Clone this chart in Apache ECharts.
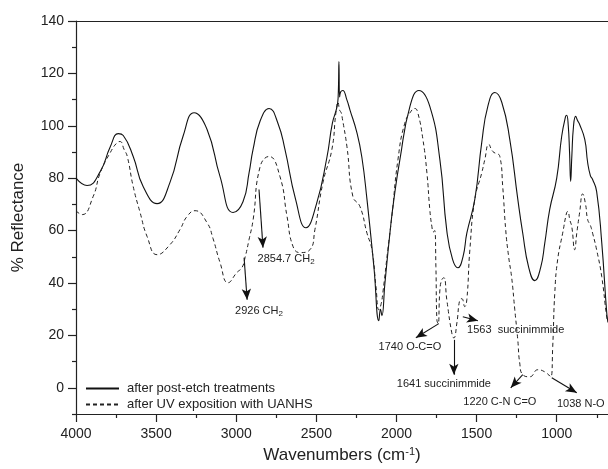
<!DOCTYPE html>
<html>
<head>
<meta charset="utf-8">
<script src="https://cdn.jsdelivr.net/npm/echarts@6/dist/echarts.min.js"></script>
<style>html,body{margin:0;padding:0;background:#fff}#c{width:608px;height:469px}</style>
</head>
<body>
<div id="c"></div>
<script>
// ---- data ----
const seriesNames = ['after post-etch treatments', 'after UV exposition with UANHS'];

const postEtchWn = [4000,3931,3849,3786,3736,3705,3643,3581,3494,3414,3332,3263,3182,3101,3020,2958,2920,2895,2850,2795,2740,2696,2630,2565,2500,2434,2400,2372,2364,2359,2355,2348,2335,2310,2290,2247,2216,2184,2141,2110,2100,2091,2072,2041,2016,1979,1916,1860,1792,1729,1686,1650,1617,1585,1561,1511,1468,1430,1386,1343,1293,1243,1212,1175,1137,1100,1075,1044,1000,969,945,938,928,920,913,906,895,882,870,857,825,807,790,776,751,719,688,680];
const postEtchR  = [80,77.2,82.5,92,97,96.3,88.3,76.8,70.3,78.3,96,105,98.6,80.6,66.9,71,82,91,102,106.6,101,91,72,61.1,70,88,101,107,111,124.5,111,113,113.5,110,106,97.4,88,71.8,46.2,25.6,30,27.5,40,59,72,87,107.4,113.5,107.4,87,60,49,45.8,50,59,72,93.6,107.4,112.7,109,94.8,72,59,46,40.9,46,55,68,80,96,103.5,104,100,90,78.8,88,100,103.6,102,100.5,94.8,86,81,79.5,75,55.4,28.7,25];

const uvWn = [4000,3961,3893,3849,3786,3743,3725,3700,3680,3643,3600,3556,3494,3414,3351,3307,3257,3182,3145,3101,3051,2996,2964,2945,2920,2895,2851,2795,2727,2683,2646,2602,2540,2509,2459,2403,2378,2365,2355,2345,2340,2309,2272,2228,2184,2153,2128,2110,2097,2085,2054,2029,1991,1948,1904,1885,1867,1835,1810,1792,1779,1770,1762,1754,1748,1740,1729,1717,1704,1686,1655,1642,1623,1605,1592,1574,1561,1542,1511,1468,1449,1424,1399,1355,1337,1318,1300,1281,1262,1243,1231,1212,1168,1118,1075,1037,1025,1012,994,963,938,931,918,906,888,875,857,838,820,807,790,776,751,719,688,680];
const uvR  = [67.5,66.1,73,82,89.8,93.6,94,91,88.3,76.8,66.9,57.7,50.8,54.6,60.4,65.4,67.6,63,57,47.8,40.1,44,45.9,49.7,56.6,64,84.4,88.3,80.6,65.4,54,51.6,52.7,60.4,78.3,91,105,109,106,105,103.6,92,73,69.2,59,52.7,38.6,29.8,31.7,36.3,52.7,65.4,87,101,106,106.6,105,94.8,82,68,61.5,59.5,60,46.2,26,24.5,37.4,41.3,42,33.6,21,19,24.8,33.6,34,31,33.6,52.7,72,82,87,92.9,90.2,88.3,76.8,60,50,42,30,18.3,9.5,5,4.2,6.9,6.1,4.2,15.7,36.3,49,59,66.9,67.3,64,61.5,52.7,59,66.9,74,70,64.2,62,59,52.7,42.4,27,25];

const xLabelValues = [1000,1500,2000,2500,3000,3500,4000];
const xMinorValues = [750,1250,1750,2250,2750,3250,3750];
const yLabelValues = [0,20,40,60,80,100,120,140];
const yMinorValues = [-10,10,30,50,70,90,110,130];

// annotations (text, text anchor, arrow start, arrow end) in data units
const annTexts = ['2854.7 CH{sub|2}','2926 CH{sub|2}','1740 O-C=O','1641 succinimmide','1563  succinimmide','1220 C-N C=O','1038 N-O'];
const annTextAt = [[2689,49.3],[2858,29.4],[1916,15.7],[1704,1.5],[1256,22.2],[1355,-5.3],[850,-6.1]];
const annFrom = [[2858,75.7],[2951,49.7],[1736,24.5],[1642,18.3],[1586,27.1],[1212,5.0],[1031,3.8]];
const annTo   = [[2833,53.5],[2932,33.6],[1879,19.1],[1642,5.0],[1492,25.6],[1287,0],[875,-1.9]];

// ---- chart ----
const pair = (xs, ys) => xs.map((x, i) => [x, ys[i]]);
const FONT = '"Liberation Sans", Arial, Helvetica, sans-serif';
const INK = '#222';
const chart = echarts.init(document.getElementById('c'), null, {renderer: 'canvas'});
const X_MIN = 680, X_MAX = 4000;

const option = {
  animation: false,
  backgroundColor: '#fff',
  grid: {left: 76, top: 21, bottom: 55, right: 0},
  legend: {
    data: seriesNames,
    orient: 'vertical',
    left: 80, top: 377,
    itemWidth: 33, itemHeight: 12, itemGap: 3,
    itemStyle: {opacity: 0, borderWidth: 0},
    textStyle: {fontFamily: FONT, fontSize: 13, color: INK, padding: [0,0,0,3]}
  },
  xAxis: [{
    type: 'value', min: X_MIN, max: X_MAX, inverse: true,
    position: 'bottom',
    name: 'Wavenumbers (cm{sup|-1})', nameLocation: 'middle', nameGap: 32,
    nameTextStyle: {fontFamily: FONT, fontSize: 17, color: INK, padding: [0, 0, 0, 0],
      rich: {sup: {fontFamily: FONT, fontSize: 11, verticalAlign: 'top', padding: [0,0,8,0], color: INK}}},
    axisLine: {onZero: false, lineStyle: {color: INK, width: 1.2}},
    axisTick: {inside: false, length: 8, customValues: xLabelValues, lineStyle: {color: INK, width: 1.2}},
    axisLabel: {fontFamily: FONT, fontSize: 14, color: INK, margin: 13, customValues: xLabelValues,
      formatter: v => String(v)},
    splitLine: {show: false}
  }, {
    type: 'value', min: X_MIN, max: X_MAX, inverse: true, position: 'top',
    axisLine: {show: true, onZero: false, lineStyle: {color: INK, width: 1.2}},
    axisTick: {show: false}, axisLabel: {show: false}, splitLine: {show: false}
  }, {
    type: 'value', min: X_MIN, max: X_MAX, inverse: true, position: 'bottom',
    axisLine: {show: false, onZero: false},
    axisTick: {show: true, length: 4, customValues: xMinorValues, lineStyle: {color: INK, width: 1.2}},
    axisLabel: {show: false, customValues: xMinorValues}, splitLine: {show: false}
  }],
  yAxis: [{
    type: 'value', min: -10, max: 140,
    name: '% Reflectance', nameLocation: 'middle', nameGap: 49, nameRotate: 90,
    nameTextStyle: {fontFamily: FONT, fontSize: 17, color: INK},
    axisLine: {show: true, onZero: false, lineStyle: {color: INK, width: 1.2}},
    axisTick: {show: true, length: 8, customValues: yLabelValues, lineStyle: {color: INK, width: 1.2}},
    axisLabel: {fontFamily: FONT, fontSize: 14, color: INK, margin: 12, customValues: yLabelValues},
    splitLine: {show: false}
  }, {
    type: 'value', min: -10, max: 140, position: 'left',
    axisLine: {show: false},
    axisTick: {show: true, length: 4, customValues: yMinorValues, lineStyle: {color: INK, width: 1.2}},
    axisLabel: {show: false, customValues: yMinorValues},
    splitLine: {show: false}
  }],
  series: [{
    name: seriesNames[0], type: 'line', symbol: 'none', smooth: 0.5,
    data: pair(postEtchWn, postEtchR),
    lineStyle: {color: '#111', width: 1.1, type: 'solid'},
    itemStyle: {color: '#111'}
  }, {
    name: seriesNames[1], type: 'line', symbol: 'none', smooth: 0.5,
    data: pair(uvWn, uvR),
    lineStyle: {color: INK, width: 1, type: [4, 3]},
    itemStyle: {color: INK},
    markLine: {
      silent: true, animation: false,
      symbol: ['none', 'arrow'], symbolSize: [7, 11],
      label: {show: false},
      lineStyle: {color: '#111', width: 1.1, type: 'solid'},
      emphasis: {disabled: true},
      data: annFrom.map((f, i) => [{coord: f}, {coord: annTo[i]}])
    },
    markPoint: {
      silent: true, animation: false,
      symbol: 'circle', symbolSize: 1,
      itemStyle: {color: 'rgba(0,0,0,0)'},
      label: {
        show: true, position: 'inside',
        fontFamily: FONT, fontSize: 11, color: INK,
        formatter: p => p.name,
        rich: {sub: {fontFamily: FONT, fontSize: 8, color: INK, verticalAlign: 'bottom', padding: [6,0,0,0]}}
      },
      data: annTexts.map((t, i) => ({name: t, coord: annTextAt[i]}))
    }
  }]
};
chart.setOption(option);
</script>
</body>
</html>
